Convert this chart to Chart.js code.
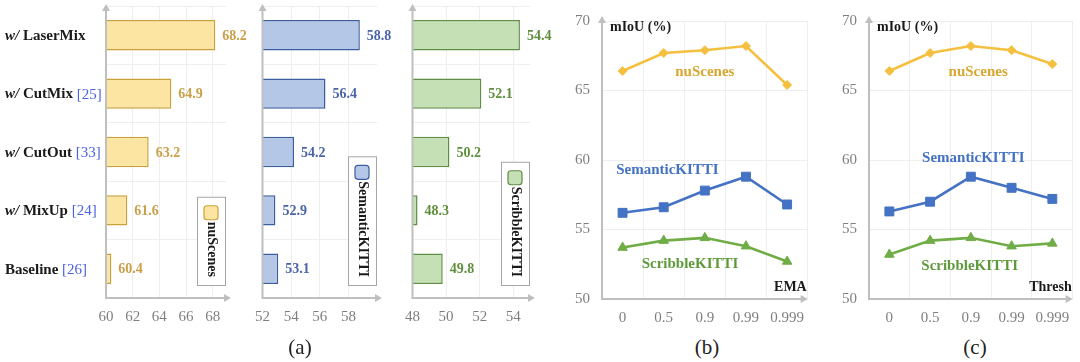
<!DOCTYPE html>
<html>
<head>
<meta charset="utf-8">
<script src="https://cdn.jsdelivr.net/npm/chart.js@4.4.0/dist/chart.umd.min.js"></script>
<style>
  body { margin: 0; background: #fff; width: 1080px; height: 362px; overflow: hidden; position: relative; }
  canvas { position: absolute; top: 0; }
  .cap { position: absolute; top: 335px; font: 21px "Liberation Serif", serif; color: #222; transform: translateX(-50%); }
</style>
</head>
<body>
<canvas id="nuBar" style="left:0" width="258" height="330"></canvas>
<canvas id="semBar" style="left:245px" width="150" height="330"></canvas>
<canvas id="scrBar" style="left:395px" width="160" height="330"></canvas>
<canvas id="emaLine" style="left:550px" width="265" height="330"></canvas>
<canvas id="thrLine" style="left:820px" width="260" height="330"></canvas>
<div class="cap" style="left:300px">(a)</div>
<div class="cap" style="left:707px">(b)</div>
<div class="cap" style="left:975px">(c)</div>
<script>
// panel (a): mix strategies
const methods = ['w/ LaserMix', 'w/ CutMix [25]', 'w/ CutOut [33]', 'w/ MixUp [24]', 'Baseline [26]'];
const nuScenesMix = [68.2, 64.9, 63.2, 61.6, 60.4];
const semanticMix = [58.8, 56.4, 54.2, 52.9, 53.1];
const scribbleMix = [54.4, 52.1, 50.2, 48.3, 49.8];
const nuTicks = [60, 62, 64, 66, 68];
const semTicks = [52, 54, 56, 58];
const scrTicks = [48, 50, 52, 54];

// panels (b) and (c)
const emaSteps = ['0', '0.5', '0.9', '0.99', '0.999'];
const threshSteps = ['0', '0.5', '0.9', '0.99', '0.999'];
const emaNu = [66.4, 67.7, 67.9, 68.2, 65.4];
const emaSem = [56.2, 56.6, 57.8, 58.8, 56.8];
const emaScr = [53.7, 54.2, 54.4, 53.8, 52.7];
const thrNu = [66.4, 67.7, 68.2, 67.9, 66.9];
const thrSem = [56.3, 57.0, 58.8, 58.0, 57.2];
const thrScr = [53.2, 54.2, 54.4, 53.8, 54.0];

const SERIF = '"Liberation Serif", serif';
const AXIS = '#bfbfbf';
const GRID = '#eeeeee';
const TICK = '#7f7f7f';

const NU = { fill: '#fce5a3', border: '#c9a13b', text: '#c9a04a', line: '#f5c040', label: '#d7a730' };
const SEM = { fill: '#b4c7e7', border: '#3c5da0', text: '#4b65a8', line: '#4472c4', label: '#4472c4' };
const SCR = { fill: '#c5e0b4', border: '#5f8d45', text: '#5f8f3e', line: '#70ad47', label: '#5e9a3a' };

// axis lines with little arrow heads
function drawAxes(ctx, a, ext) {
  ctx.save();
  ctx.strokeStyle = AXIS; ctx.fillStyle = AXIS; ctx.lineWidth = 2;
  ctx.beginPath();
  ctx.moveTo(a.left, a.bottom); ctx.lineTo(a.left, a.top - ext.top + 4);
  ctx.moveTo(a.left - 1, a.bottom); ctx.lineTo(a.right + ext.right - 4, a.bottom);
  ctx.stroke();
  ctx.beginPath();
  ctx.moveTo(a.left, a.top - ext.top); ctx.lineTo(a.left - 4, a.top - ext.top + 7); ctx.lineTo(a.left + 4, a.top - ext.top + 7);
  ctx.closePath(); ctx.fill();
  ctx.beginPath();
  ctx.moveTo(a.right + ext.right, a.bottom); ctx.lineTo(a.right + ext.right - 7, a.bottom - 4); ctx.lineTo(a.right + ext.right - 7, a.bottom + 4);
  ctx.closePath(); ctx.fill();
  ctx.restore();
}

function makeBar(id, values, ticks, name, col, min, max, axisW, padRight, withCats) {
  const el = document.getElementById(id);
  new Chart(el, {
    type: 'bar',
    data: {
      labels: methods,
      datasets: [{
        label: name,
        data: values,
        backgroundColor: col.fill,
        borderColor: col.border,
        borderWidth: 1.5,
        borderSkipped: false,
        categoryPercentage: 1,
        barPercentage: 0.52
      }]
    },
    options: {
      indexAxis: 'y',
      responsive: false,
      animation: false,
      layout: { padding: { top: 6, right: padRight, left: 0, bottom: 0 } },
      plugins: { legend: { display: false }, tooltip: { enabled: false } },
      scales: {
        x: {
          min: min, max: max,
          border: { display: false },
          grid: { color: GRID, drawTicks: false },
          ticks: { padding: 10, color: TICK, font: { family: SERIF, size: 15 } },
          afterBuildTicks: s => { s.ticks = ticks.map(v => ({ value: v })); },
          afterFit: s => { s.height = el.height - 298; }
        },
        y: {
          border: { display: false },
          grid: { color: GRID, drawTicks: false, offset: true },
          ticks: { display: false },
          afterFit: s => { s.width = axisW; }
        }
      }
    },
    plugins: [{
      id: 'barDecor',
      afterDraw(chart) {
        const ctx = chart.ctx, a = chart.chartArea;
        drawAxes(ctx, a, { top: 2, right: 5 });
        // value labels
        ctx.save();
        ctx.font = 'bold 14px ' + SERIF;
        ctx.fillStyle = col.text;
        ctx.textBaseline = 'middle';
        chart.getDatasetMeta(0).data.forEach((bar, i) => {
          ctx.fillText(values[i].toFixed(1), bar.x + 7, bar.y + 1);
        });
        // legend box with rotated name
        ctx.font = 'bold 14px ' + SERIF;
        const tw = ctx.measureText(name).width;
        const bw = 28, bh = 33 + tw;
        const bx = a.right - 1 - bw, by = a.bottom - 13 - bh;
        ctx.fillStyle = '#fff'; ctx.fillRect(bx, by, bw, bh);
        ctx.strokeStyle = '#a6a6a6'; ctx.lineWidth = 1;
        ctx.strokeRect(bx + 0.5, by + 0.5, bw, bh);
        ctx.beginPath();
        ctx.roundRect(bx + 7, by + 9, 14, 14, 3);
        ctx.fillStyle = col.fill; ctx.fill();
        ctx.strokeStyle = col.border; ctx.lineWidth = 1.2; ctx.stroke();
        ctx.translate(bx + bw / 2 + 1, by + 25);
        ctx.rotate(Math.PI / 2);
        ctx.fillStyle = '#1a1a1a';
        ctx.textAlign = 'left';
        ctx.fillText(name, 0, 0);
        ctx.restore();
        if (withCats) {
          // category names: italic "w/", blue citation
          ctx.save();
          ctx.textBaseline = 'middle';
          const ys = chart.scales.y;
          methods.forEach((m, i) => {
            const y = ys.getPixelForValue(i) + 1;
            const parts = m.match(/^(w\/)?\s?(.*?)(\s\[\d+\])?$/);
            let x = 5;
            if (parts[1]) {
              ctx.font = 'italic bold 15px ' + SERIF; ctx.fillStyle = '#1a1a1a';
              ctx.fillText('w/ ', x, y); x += ctx.measureText('w/ ').width;
            }
            ctx.font = 'bold 15px ' + SERIF; ctx.fillStyle = '#1a1a1a';
            ctx.fillText(parts[2], x, y); x += ctx.measureText(parts[2]).width;
            if (parts[3]) {
              ctx.font = '15px ' + SERIF; ctx.fillStyle = '#4a63e0';
              ctx.fillText(parts[3], x, y);
            }
          });
          ctx.restore();
        }
      }
    }]
  });
}

makeBar('nuBar', nuScenesMix, nuTicks, 'nuScenes', NU, 60, 69, 106, 32, true);
makeBar('semBar', semanticMix, semTicks, 'SemanticKITTI', SEM, 52, 60, 13, 18, false);
makeBar('scrBar', scribbleMix, scrTicks, 'ScribbleKITTI', SCR, 48, 55, 16, 25, false);

function makeLine(id, steps, nu, sem, scr, axisName, axisW, padRight, labelPos) {
  const el = document.getElementById(id);
  const ds = (label, data, col, style, r) => ({
    label, data,
    borderColor: col.line, backgroundColor: col.line,
    borderWidth: 2.6, pointStyle: style, pointRadius: r,
    pointBorderWidth: 1, pointBorderColor: col.line
  });
  new Chart(el, {
    type: 'line',
    data: {
      labels: steps,
      datasets: [
        ds('nuScenes', nu, NU, 'rectRot', 4.5),
        ds('SemanticKITTI', sem, SEM, 'rect', 6.3),
        ds('ScribbleKITTI', scr, SCR, 'triangle', 5.5)
      ]
    },
    options: {
      responsive: false,
      animation: false,
      layout: { padding: { top: 9, right: padRight, left: 0, bottom: 0 } },
      plugins: { legend: { display: false }, tooltip: { enabled: false } },
      scales: {
        x: {
          offset: true,
          border: { display: false },
          grid: { color: GRID, drawTicks: false, offset: true },
          ticks: { padding: 10, color: TICK, font: { family: SERIF, size: 15 } },
          afterFit: s => { s.height = el.height - 299; }
        },
        y: {
          min: 50, max: 70,
          border: { display: false },
          grid: { color: GRID, drawTicks: false },
          ticks: { stepSize: 5, padding: 12, color: TICK, font: { family: SERIF, size: 15 } },
          afterFit: s => { s.width = axisW; }
        }
      }
    },
    plugins: [{
      id: 'lineDecor',
      beforeDatasetsDraw(chart) {
        drawAxes(chart.ctx, chart.chartArea, { top: 5, right: 0 });
      },
      afterDraw(chart) {
        const ctx = chart.ctx, a = chart.chartArea;
        const xs = chart.scales.x, ys = chart.scales.y;
        ctx.save();
        ctx.textBaseline = 'middle';
        ctx.font = 'bold 14px ' + SERIF;
        ctx.fillStyle = '#1a1a1a';
        ctx.textAlign = 'left';
        ctx.fillText('mIoU (%)', a.left + 8, a.top + 6);
        ctx.textAlign = 'right';
        ctx.fillText(axisName, a.right - 1, a.bottom - 12);
        ctx.textAlign = 'center';
        ctx.font = 'bold 15px ' + SERIF;
        [['nuScenes', NU], ['SemanticKITTI', SEM], ['ScribbleKITTI', SCR]].forEach(([t, c], i) => {
          ctx.fillStyle = c.label;
          ctx.fillText(t, xs.getPixelForValue(labelPos[i][0]), ys.getPixelForValue(labelPos[i][1]));
        });
        ctx.restore();
      }
    }]
  });
}

makeLine('emaLine', emaSteps, emaNu, emaSem, emaScr, 'EMA', 52, 6, [[2, 66.35], [1.09, 59.25], [1.64, 52.5]]);
makeLine('thrLine', threshSteps, thrNu, thrSem, thrScr, 'Thresh', 49, 3, [[2.18, 66.35], [2.06, 60.15], [1.97, 52.4]]);
</script>
</body>
</html>
